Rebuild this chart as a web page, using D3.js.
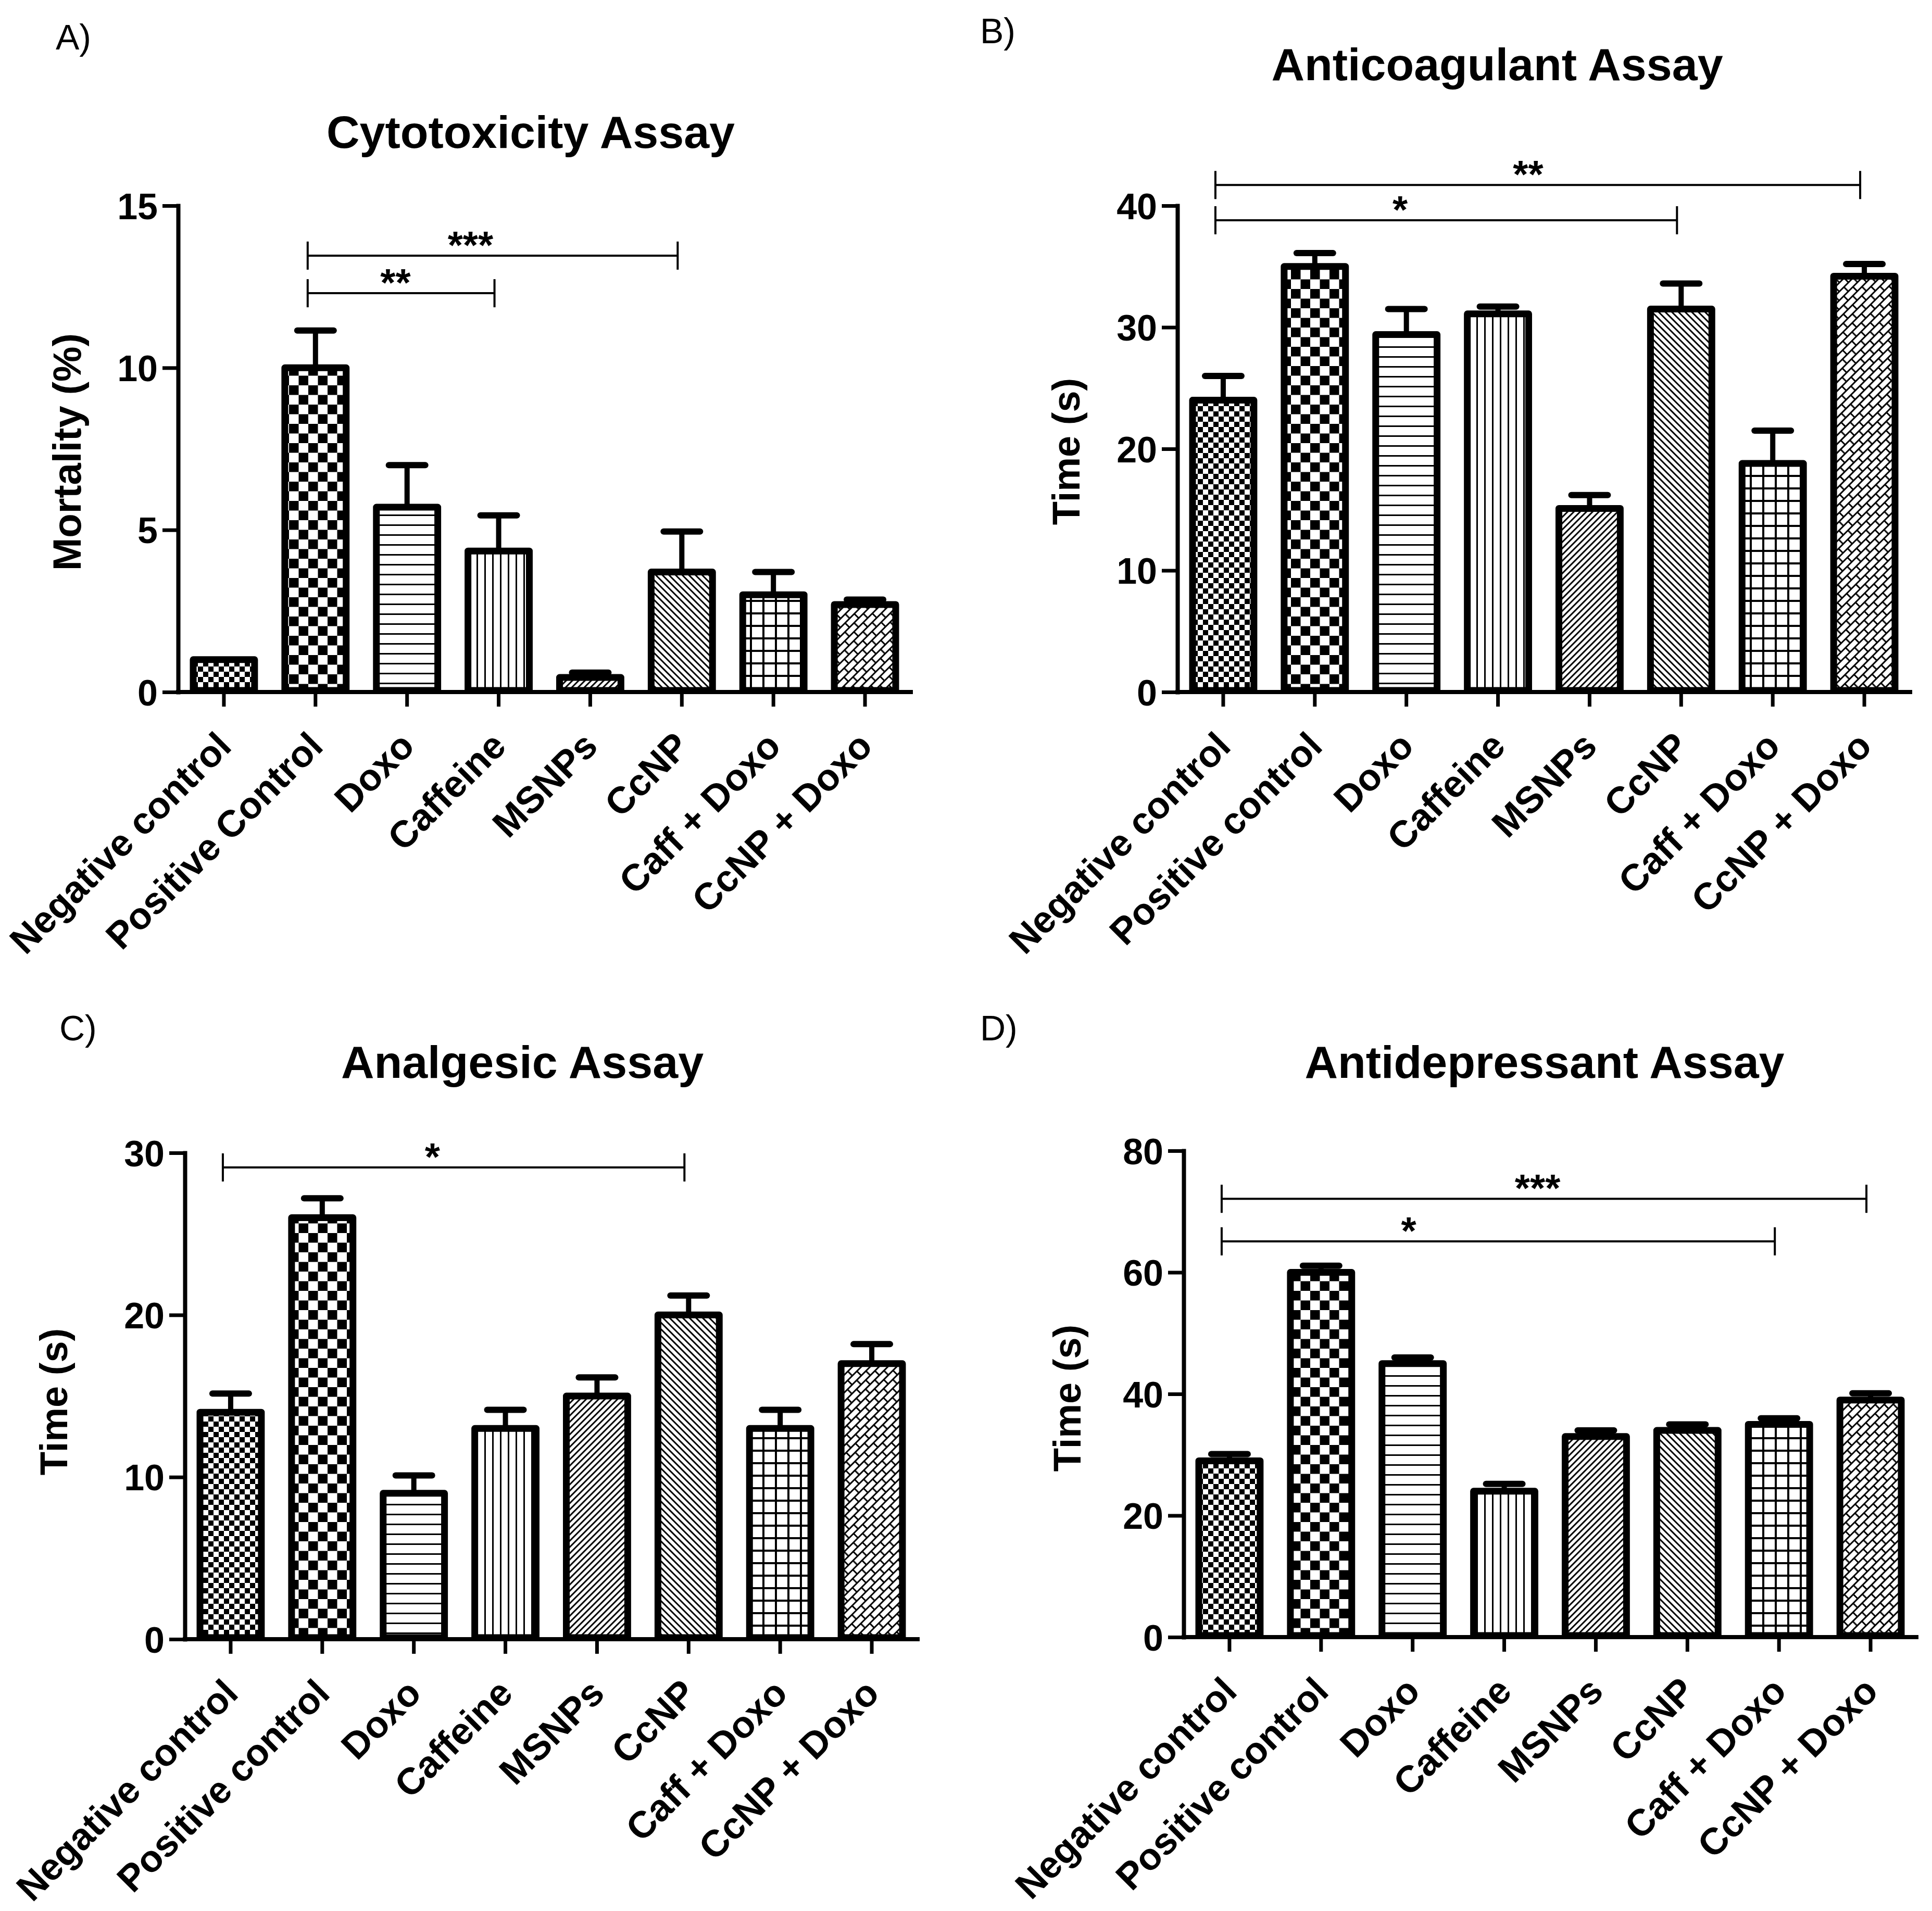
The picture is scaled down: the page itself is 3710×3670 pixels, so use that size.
<!doctype html>
<html>
<head>
<meta charset="utf-8">
<style>
  body { margin:0; background:#fff; }
  svg { display:block; font-family: Arial, "Liberation Sans", sans-serif; }
  .axis path, .axis line { stroke:#000; }
  .axis .domain { stroke-width:8; stroke-linecap:square; }
  .axis .tick line { stroke-width:7; }
  .axis text { font-size:70px; font-weight:bold; fill:#000; font-family: Arial, "Liberation Sans", sans-serif; }
  .title { font-size:88px; font-weight:bold; text-anchor:middle; }
  .letter { font-size:68px; }
  .ylab { font-weight:bold; text-anchor:middle; }
  .xlab { font-size:72px; font-weight:bold; text-anchor:end; }
  .star { font-size:75px; font-weight:bold; text-anchor:middle; }
</style>
<script src="https://d3js.org/d3.v7.min.js"></script>
</head>
<body>
<script>

// categories
var catsA = ["Negative control", "Positive Control", "Doxo", "Caffeine", "MSNPs", "CcNP", "Caff + Doxo", "CcNP + Doxo"];
var cats  = ["Negative control", "Positive control", "Doxo", "Caffeine", "MSNPs", "CcNP", "Caff + Doxo", "CcNP + Doxo"];

// A) Cytotoxicity - mortality (%)
var cytoMean  = [1.0, 10.0, 5.7, 4.35, 0.45, 3.7, 3.0, 2.7];
var cytoErr   = [0, 1.15, 1.3, 1.1, 0.15, 1.25, 0.7, 0.15];
var cytoTicks = [0, 5, 10, 15];
var cytoSig   = [{a:1, b:5, y:13.46, t:"***", p:0.44}, {a:1, b:3, y:12.3, t:"**", p:0.47}];

// B) Anticoagulant - time (s)
var coagMean  = [24.0, 35.0, 29.4, 31.1, 15.1, 31.5, 18.8, 34.2];
var coagErr   = [2.0, 1.1, 2.1, 0.6, 1.1, 2.1, 2.7, 1.0];
var coagTicks = [0, 10, 20, 30, 40];
var coagSig   = [{a:0, b:7, y:41.7, t:"**", p:0.485}, {a:0, b:5, y:38.8, t:"*", p:0.40}];

// C) Analgesic - time (s)
var analMean  = [14.0, 26.0, 9.0, 13.0, 15.0, 20.0, 13.0, 17.0];
var analErr   = [1.15, 1.2, 1.1, 1.15, 1.15, 1.2, 1.15, 1.2];
var analTicks = [0, 10, 20, 30];
var analSig   = [{a:0, b:5, y:29.1, t:"*", p:0.454}];

// D) Antidepressant - time (s)
var depMean  = [29.0, 60.0, 45.0, 24.0, 33.0, 34.0, 35.0, 39.0];
var depErr   = [1.1, 1.1, 1.0, 1.2, 1.0, 1.0, 1.0, 1.1];
var depTicks = [0, 20, 40, 60, 80];
var depSig   = [{a:0, b:7, y:72.1, t:"***", p:0.49}, {a:0, b:6, y:65.1, t:"*", p:0.338}];

// fill pattern per category (same order in every panel)
var patternIds = ["pFine", "pCheck", "pHoriz", "pVert", "pFwd", "pBack", "pGrid", "pBrick"];

var panels = [
  {letter:"A)", title:"Cytotoxicity Assay", ylabel:"Mortality (%)", cats:catsA, mean:cytoMean, err:cytoErr, ticks:cytoTicks, sig:cytoSig,
   x0:342, x1:1749, yTop:395, yBot:1329, titlePos:[1019, 284], letterPos:[107, 95], ylabPos:[128, 868], ylabSize:76},
  {letter:"B)", title:"Anticoagulant Assay", ylabel:"Time (s)", cats:cats, mean:coagMean, err:coagErr, ticks:coagTicks, sig:coagSig,
   x0:2261, x1:3668, yTop:395, yBot:1329, titlePos:[2875, 154], letterPos:[1882, 83], ylabPos:[2046, 867], ylabSize:74},
  {letter:"C)", title:"Analgesic Assay", ylabel:"Time (s)", cats:cats, mean:analMean, err:analErr, ticks:analTicks, sig:analSig,
   x0:355, x1:1762, yTop:2214, yBot:3148, titlePos:[1003, 2070], letterPos:[114, 1998], ylabPos:[102, 2692], ylabSize:74},
  {letter:"D)", title:"Antidepressant Assay", ylabel:"Time (s)", cats:cats, mean:depMean, err:depErr, ticks:depTicks, sig:depSig,
   x0:2273, x1:3680, yTop:2210, yBot:3144, titlePos:[2966, 2070], letterPos:[1882, 1998], ylabPos:[2048, 2685], ylabSize:74}
];

var svg = d3.select("body").append("svg")
   .attr("width", 3710)
   .attr("height", 3670);

svg.append("rect").attr("width", 3710).attr("height", 3670).attr("fill", "#fff");

// ---- hatch patterns ----
var defs = svg.append("defs");

function pat(id, w, h, transform) {
   var p = defs.append("pattern")
      .attr("id", id)
      .attr("patternUnits", "userSpaceOnUse")
      .attr("width", w).attr("height", h);
   if (transform) p.attr("patternTransform", transform);
   p.append("rect").attr("width", w).attr("height", h).attr("fill", "#fff");
   return p;
}

var p = pat("pFine", 20, 20);
p.append("rect").attr("width", 10).attr("height", 10);
p.append("rect").attr("x", 10).attr("y", 10).attr("width", 10).attr("height", 10);

p = pat("pCheck", 37, 37);
p.append("rect").attr("width", 18.5).attr("height", 18.5);
p.append("rect").attr("x", 18.5).attr("y", 18.5).attr("width", 18.5).attr("height", 18.5);

p = pat("pHoriz", 20, 19);
p.append("rect").attr("width", 20).attr("height", 3);

p = pat("pVert", 15, 20);
p.append("rect").attr("width", 3).attr("height", 20);

p = pat("pFwd", 8.5, 20, "rotate(45)");
p.append("rect").attr("width", 3).attr("height", 20);

p = pat("pBack", 9, 20, "rotate(-45)");
p.append("rect").attr("width", 3).attr("height", 20);

p = pat("pGrid", 24, 24);
p.append("rect").attr("width", 24).attr("height", 4);
p.append("rect").attr("width", 4).attr("height", 24);

// diagonal brick: long courses run "/", short joints run "\"
p = pat("pBrick", 25, 24, "rotate(-45)");
p.append("rect").attr("width", 25).attr("height", 3);
p.append("rect").attr("y", 12).attr("width", 25).attr("height", 3);
p.append("rect").attr("width", 3).attr("height", 12);
p.append("rect").attr("x", 12.5).attr("y", 12).attr("width", 3).attr("height", 12);

// ---- draw each panel ----
panels.forEach(function(P) {
   var g = svg.append("g");

   var x = d3.scaleBand()
      .domain(P.cats)
      .range([P.x0, P.x1])
      .paddingInner(0.33)
      .paddingOuter(0.165);

   var y = d3.scaleLinear()
      .domain([0, d3.max(P.ticks)])
      .range([P.yBot, P.yTop]);

   var rows = P.cats.map(function(c, i) {
      return {cat:c, v:P.mean[i], e:P.err[i], pid:patternIds[i]};
   });

   // error bars (upper only), behind the bars
   var eb = g.append("g").selectAll("g")
      .data(rows.filter(function(d) { return d.e > 0; }))
      .enter().append("g");
   eb.append("line")
      .attr("x1", function(d) { return x(d.cat) + x.bandwidth()/2; })
      .attr("x2", function(d) { return x(d.cat) + x.bandwidth()/2; })
      .attr("y1", function(d) { return y(d.v); })
      .attr("y2", function(d) { return y(d.v + d.e); })
      .attr("stroke", "#000").attr("stroke-width", 10);
   eb.append("line")
      .attr("x1", function(d) { return x(d.cat) + x.bandwidth()/2 - 35; })
      .attr("x2", function(d) { return x(d.cat) + x.bandwidth()/2 + 35; })
      .attr("y1", function(d) { return y(d.v + d.e); })
      .attr("y2", function(d) { return y(d.v + d.e); })
      .attr("stroke", "#000").attr("stroke-width", 12).attr("stroke-linecap", "round");

   // bars
   g.append("g").selectAll("rect")
      .data(rows)
      .enter().append("rect")
      .attr("x", function(d) { return x(d.cat); })
      .attr("y", function(d) { return y(d.v); })
      .attr("width", x.bandwidth())
      .attr("height", function(d) { return y(0) - y(d.v) - 3; })
      .attr("fill", function(d) { return "url(#" + d.pid + ")"; })
      .attr("stroke", "#000")
      .attr("stroke-width", 13)
      .attr("stroke-linejoin", "round");

   // axes
   g.append("g")
      .attr("class", "axis")
      .attr("transform", "translate(" + P.x0 + ",0)")
      .call(d3.axisLeft(y).tickValues(P.ticks).tickSize(30).tickSizeOuter(0).tickPadding(9).tickFormat(d3.format("d")))
      .call(function(a) { a.selectAll("text").attr("dy", "0.36em"); });

   var xa = g.append("g")
      .attr("class", "axis")
      .attr("transform", "translate(0," + P.yBot + ")")
      .call(d3.axisBottom(x).tickSize(28).tickSizeOuter(0).tickFormat(""));
   xa.select(".domain").attr("d", "M" + P.x0 + ",0H" + P.x1);

   // rotated category labels
   g.append("g").selectAll("text")
      .data(P.cats)
      .enter().append("text")
      .attr("class", "xlab")
      .attr("transform", function(d) {
         return "translate(" + (x(d) + x.bandwidth()/2 + 18) + "," + (P.yBot + 108) + ") rotate(-45)";
      })
      .text(function(d) { return d; });

   // significance brackets
   var sg = g.append("g").selectAll("g")
      .data(P.sig)
      .enter().append("g");
   function L(d) { return x(P.cats[d.a]) + x.bandwidth()/2 - 15; }
   function R(d) { return x(P.cats[d.b]) + x.bandwidth()/2 - 8; }
   sg.append("line")
      .attr("x1", L).attr("x2", R)
      .attr("y1", function(d) { return y(d.y); })
      .attr("y2", function(d) { return y(d.y); })
      .attr("stroke", "#000").attr("stroke-width", 4);
   sg.append("line")
      .attr("x1", L).attr("x2", L)
      .attr("y1", function(d) { return y(d.y) - 27; })
      .attr("y2", function(d) { return y(d.y) + 27; })
      .attr("stroke", "#000").attr("stroke-width", 4);
   sg.append("line")
      .attr("x1", R).attr("x2", R)
      .attr("y1", function(d) { return y(d.y) - 27; })
      .attr("y2", function(d) { return y(d.y) + 27; })
      .attr("stroke", "#000").attr("stroke-width", 4);
   sg.append("text")
      .attr("class", "star")
      .attr("x", function(d) { return L(d) + d.p * (R(d) - L(d)); })
      .attr("y", function(d) { return y(d.y) + 5; })
      .text(function(d) { return d.t; });

   // titles and labels
   g.append("text")
      .attr("class", "title")
      .attr("x", P.titlePos[0]).attr("y", P.titlePos[1])
      .text(P.title);

   g.append("text")
      .attr("class", "letter")
      .attr("x", P.letterPos[0]).attr("y", P.letterPos[1])
      .text(P.letter);

   g.append("text")
      .attr("class", "ylab")
      .style("font-size", P.ylabSize + "px")
      .attr("transform", "translate(" + (P.ylabPos[0] + 0.36 * P.ylabSize) + "," + P.ylabPos[1] + ") rotate(-90)")
      .text(P.ylabel);
});

</script>
</body>
</html>
